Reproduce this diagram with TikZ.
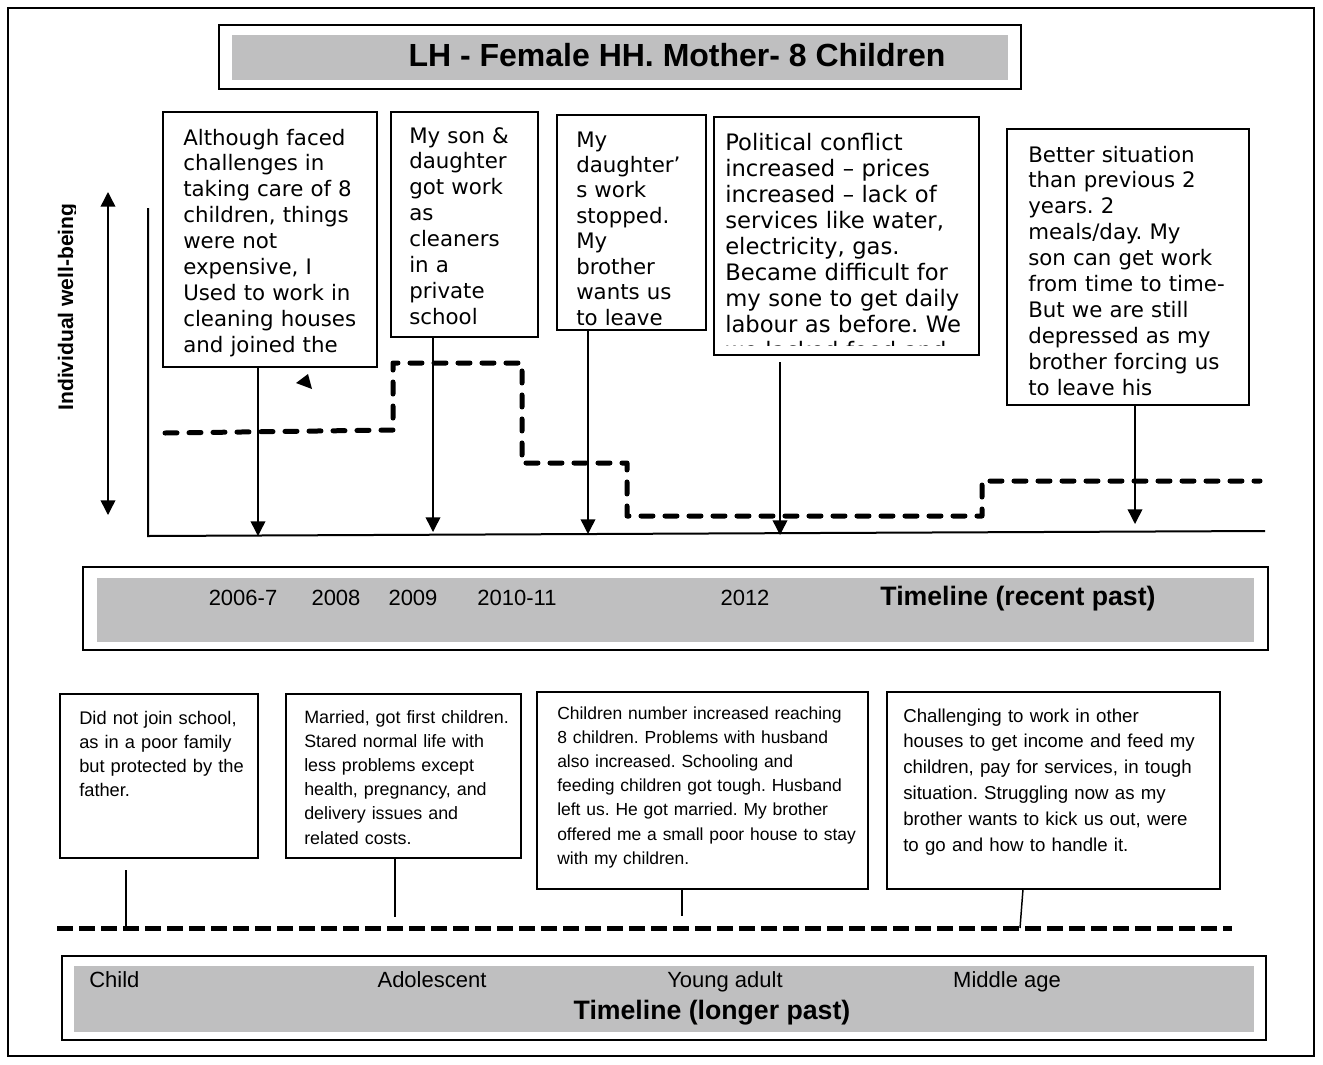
\documentclass[tikz,border=0pt]{standalone}
\usepackage{fontspec}
\setmainfont{DejaVu Sans}
\newfontfamily\verd{DejaVu Sans}
\newfontfamily\arl{Liberation Sans}
\usetikzlibrary{arrows.meta,fit}
\definecolor{bandgray}{RGB}{191,191,192}
\frenchspacing
\tikzset{
  frame/.style={draw, line width=1.9pt},
  box/.style={draw, line width=1.4pt, inner sep=0pt},
  bandbox/.style={fill=bandgray, draw=none, inner sep=0pt},
  vtxt/.style={anchor=base west, inner sep=0pt, text width=260pt, align=left},
  vsixteen/.style={vtxt, font=\verd\fontsize{16pt}{19.45pt}\selectfont},
  vsixteenc/.style={vtxt, font=\verd\fontsize{16pt}{19.1pt}\selectfont},
  vseventeen/.style={vtxt, font=\verd\fontsize{17pt}{19.5pt}\selectfont},
  atxt/.style={anchor=base west, inner sep=0pt, text width=260pt, align=left},
  arr/.style={line width=1.1pt, -{Triangle[width=11pt,length=11pt]}},
  darr/.style={line width=1.1pt, {Triangle[width=11pt,length=11pt]}-{Triangle[width=11pt,length=11pt]}},
  conn/.style={line width=1.1pt},
  axisline/.style={line width=1.5pt},
  wellbeing/.style={line width=3.75pt, line cap=round, line join=round, dash pattern=on 9pt off 9pt},
  lifeline/.style={line width=3.75pt, dash pattern=on 12pt off 4.5pt},
  yearlbl/.style={anchor=base, inner sep=0pt, font=\arl\fontsize{16.5pt}{19pt}\selectfont},
  boldlbl/.style={anchor=base, inner sep=0pt, font=\arl\bfseries\fontsize{20pt}{23pt}\selectfont},
}
\begin{document}
\begin{tikzpicture}[x=0.75pt,y=-0.75pt]
\useasboundingbox (0,0) rectangle (1323,1064);
% outer frame
\node[frame, inner sep=0pt, fit={(8,8)(1314,1056)}] (outer) {};

% title
\node[box, line width=1.5pt, fit={(219,25)(1021,89)}] (titlebox) {};
\node[bandbox, fit={(232,35)(1008,80)}] (titleband) {};
\node[anchor=base, inner sep=0pt, font=\arl\bfseries\fontsize{24pt}{28pt}\selectfont] (title) at (677,66) {LH - Female HH. Mother- 8 Children};

% y-axis label (descender of g clipped)
\begin{scope}
\clip (30,150) rectangle (75.5,460);
\node[rotate=90, anchor=base, inner sep=0pt, font=\arl\bfseries\fontsize{15.8pt}{18pt}\selectfont] (ylabel) at (73,307) {Individual well-being};
\end{scope}

% double arrow
\coordinate (dtop) at (108,192);
\coordinate (dbot) at (108,515);
\draw[darr] (dtop) -- (dbot);

% axes
\coordinate (ytop) at (148,208);
\coordinate (orig) at (148,536);
\coordinate (xend) at (1265,531);
\draw[axisline] (ytop) -- (orig) -- (xend);

% top boxes
\node[box, fit={(163,112)(377,367)}] (A) {};
\node[box, fit={(391,112)(538,337)}] (B) {};
\node[box, fit={(557,115)(706,330)}] (C) {};
\node[box, fit={(714,117)(979,355)}] (D) {};
\node[box, fit={(1007,129)(1249,405)}] (E) {};

\node[vsixteen] (tA) at (183,145) {Although faced\\challenges in\\taking care of 8\\children, things\\were not\\expensive, I\\Used to work in\\cleaning houses\\and joined the};
\node[vsixteen] (tB) at (409,143) {My son \&\\daughter\\got work\\as\\cleaners\\in a\\private\\school};
\node[vsixteenc] (tC) at (576,147) {My\\daughter’\\s work\\stopped.\\My\\brother\\wants us\\to leave};
\node[vseventeen] (tD) at (725,150) {Political conflict\\increased – prices\\increased – lack of\\services like water,\\electricity, gas.\\Became difficult for\\my sone to get daily\\labour as before. We};
\begin{scope}
\clip (716,300) rectangle (977,345.5);
\node[vseventeen] (tDcut) at (725,358) {we lacked food and};
\end{scope}
\node[vsixteen] (tE) at (1028,162) {Better situation\\than previous 2\\years. 2\\meals/day. My\\son can get work\\from time to time-\\But we are still\\depressed as my\\brother forcing us\\to leave his};

% arrows from top boxes
\coordinate (aA) at (258,536);
\coordinate (aB) at (433,532);
\coordinate (aC) at (588,534);
\coordinate (aDs) at (780,362);
\coordinate (aD) at (780,535);
\coordinate (aE) at (1135,524);
\draw[arr] (A.south -| aA) -- (aA);
\draw[arr] (B.south -| aB) -- (aB);
\draw[arr] (C.south -| aC) -- (aC);
\draw[arr] (aDs) -- (aD);
\draw[arr] (E.south -| aE) -- (aE);

% stray arrowhead
\fill (296,383) -- (308,374) -- (312,389) -- cycle;

% well-being line
\draw[wellbeing] (165,433) -- (393,430) -- (393,363) -- (522,363) -- (522,463) -- (627,463) -- (627,516) -- (982,516) -- (982,481) -- (1260,481);

% recent timeline
\node[box, line width=1.5pt, fit={(83,567)(1268,650)}] (recent) {};
\node[bandbox, fit={(97,578)(1254,642)}] (recentband) {};
\node[yearlbl] (y1) at (243,605) {2006-7};
\node[yearlbl] (y2) at (336,605) {2008};
\node[yearlbl] (y3) at (413,605) {2009};
\node[yearlbl] (y4) at (517,605) {2010-11};
\node[yearlbl] (y5) at (745,605) {2012};
\node[boldlbl] (rt) at (1018,605) {Timeline (recent past)};

% bottom boxes
\node[box, line width=1.2pt, fit={(60,694)(258,858)}] (L1) {};
\node[box, line width=1.2pt, fit={(286,694)(521,858)}] (L2) {};
\node[box, line width=1.2pt, fit={(537,692)(868,889)}] (L3) {};
\node[box, line width=1.2pt, fit={(887,692)(1220,889)}] (L4) {};

\node[atxt, font=\arl\fontsize{13.7pt}{18.15pt}\selectfont] (t1) at (79,724) {Did not join school,\\as in a poor family\\but protected by the\\father.};
\node[atxt, font=\arl\fontsize{13.4pt}{18.15pt}\selectfont] (t2) at (304,723) {Married, got first children.\\Stared normal life with\\less problems except\\health, pregnancy, and\\delivery issues and\\related costs.};
\node[atxt, font=\arl\fontsize{13.1pt}{18.15pt}\selectfont] (t3) at (557,719) {Children number increased reaching\\8 children. Problems with husband\\also increased. Schooling and\\feeding children got tough. Husband\\left us. He got married. My brother\\offered me a small poor house to stay\\with my children.};
\node[atxt, font=\arl\fontsize{14pt}{19.35pt}\selectfont] (t4) at (903,722) {Challenging to work in other\\houses to get income and feed my\\children, pay for services, in tough\\situation. Struggling now as my\\brother wants to kick us out, were\\to go and how to handle it.};

% life dashed line and connectors
\coordinate (lstart) at (57,928);
\coordinate (lend) at (1232,928);
\draw[lifeline] (lstart) -- (lend);
\coordinate (c1a) at (126,870);
\coordinate (c1b) at (126,928);
\coordinate (c2) at (395,917);
\coordinate (c3) at (682,916);
\coordinate (c4a) at (1023,889);
\coordinate (c4b) at (1020,928);
\draw[conn] (c1a) -- (c1b);
\draw[conn] (L2.south -| c2) -- (c2);
\draw[conn] (L3.south -| c3) -- (c3);
\draw[conn] (c4a) -- (c4b);

% longer timeline
\node[box, line width=1.5pt, fit={(62,956)(1266,1040)}] (longer) {};
\node[bandbox, fit={(74,966)(1254,1032)}] (longerband) {};
\node[anchor=base west, inner sep=0pt, font=\arl\fontsize{16.5pt}{19pt}\selectfont] (s1) at (89,987) {Child};
\node[yearlbl] (s2) at (432,987) {Adolescent};
\node[yearlbl] (s3) at (725,987) {Young adult};
\node[yearlbl] (s4) at (1007,987) {Middle age};
\node[boldlbl] (lt) at (712,1019) {Timeline (longer past)};
\end{tikzpicture}
\end{document}
